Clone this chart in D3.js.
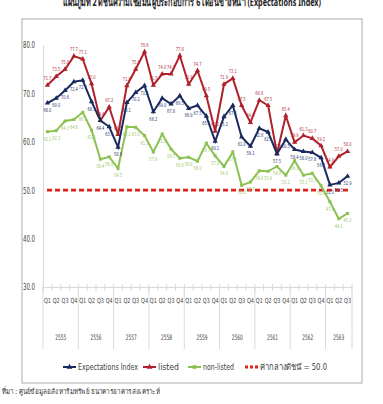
<!DOCTYPE html>
<html>
<head>
<meta charset="utf-8">
<script src="https://cdn.jsdelivr.net/npm/d3@7"></script>
<style>
  body { margin: 0; background: #fff; }
  svg { display: block; }
  text { font-family: "DejaVu Sans Condensed", "Liberation Sans", sans-serif; }
</style>
</head>
<body>
<div id="chart"></div>
<script>
// data
const years = ["2555", "2556", "2557", "2558", "2559", "2560", "2561", "2562", "2563"];
const quarterNames = ["Q1", "Q2", "Q3", "Q4"];
const quartersPerYear = [4, 4, 4, 4, 4, 4, 4, 4, 3];

const expectations = [68.0, 69.0, 70.6, 72.4, 72.7, 68.3, 64.4, 63.1, 58.9, 68.1, 70.2, 71.6, 66.2, 69.0, 67.8, 69.5, 66.9, 67.5, 65.3, 60.1, 65.2, 67.5, 61.0, 59.1, 62.8, 62.0, 57.5, 60.5, 58.4, 58.0, 57.8, 56.7, 51.1, 51.5, 52.9];
const listed = [71.7, 73.5, 75.0, 77.7, 77.1, 72.0, 64.4, 67.2, 61.5, 71.6, 75.0, 78.6, 71.7, 74.0, 74.0, 77.8, 71.9, 74.7, 69.5, 62.2, 71.9, 73.1, 67.5, 64.0, 68.6, 67.5, 57.6, 65.4, 59.9, 61.3, 60.7, 59.2, 54.8, 57.0, 58.0];
const nonListed = [62.1, 62.3, 64.3, 64.6, 66.1, 62.4, 56.4, 56.9, 54.5, 63.1, 63.0, 61.3, 57.9, 61.6, 58.5, 56.6, 56.8, 56.0, 59.7, 57.1, 54.9, 57.9, 51.0, 51.7, 54.0, 53.9, 54.9, 53.1, 56.1, 53.1, 53.5, 50.9, 47.6, 44.1, 45.2];
const midValue = 50.0;
const yTicks = [30, 40, 50, 60, 70, 80];

const W = 383, H = 404;
const svg = d3.select("#chart").append("svg").attr("width", W).attr("height", H);

// quarter categories
const cats = [];
years.forEach((y, i) => {
  for (let q = 0; q < quartersPerYear[i]; q++) cats.push({ year: y, q: quarterNames[q] });
});
const idx = cats.map((d, i) => i);

const x = d3.scaleBand().domain(idx).range([43, 352]).padding(0);
const y = d3.scaleLinear().domain([30, 80]).range([287, 45]);
const cx = i => x(i) + x.bandwidth() / 2;

// title (cut at the top of the picture)
svg.append("text")
  .attr("x", 192).attr("y", 6)
  .attr("text-anchor", "middle")
  .style("font-family", "'Noto Sans', sans-serif")
  .style("font-size", "11px").style("font-weight", "bold")
  .attr("fill", "#222")
  .attr("textLength", 258).attr("lengthAdjust", "spacingAndGlyphs")
  .text("แผนภูมิที่ 2 ดัชนีความเชื่อมั่นผู้ประกอบการ 6 เดือนข้างหน้า (Expectations Index)");

// frame
svg.append("rect")
  .attr("x", 22).attr("y", 19).attr("width", 340).attr("height", 364)
  .attr("fill", "none").attr("stroke", "#c8c8c8").attr("stroke-width", 1.5);

// y axis
const yAxis = svg.append("g").attr("transform", "translate(43,0)")
  .call(d3.axisLeft(y).tickValues(yTicks).tickFormat(d3.format(".1f")).tickSize(0).tickPadding(8));
yAxis.select(".domain").attr("stroke", "#d9d9d9");
yAxis.selectAll("text").attr("fill", "#404040").style("font-size", "9px")
  .attr("textLength", 12).attr("lengthAdjust", "spacingAndGlyphs");

// x axis with quarter labels
const xAxis = svg.append("g").attr("transform", "translate(0,287)")
  .call(d3.axisBottom(x).tickFormat(i => cats[i].q).tickSize(0).tickPadding(11));
xAxis.select(".domain").attr("stroke", "#d9d9d9");
xAxis.selectAll("text").attr("fill", "#404040").style("font-size", "7px")
  .attr("textLength", 7).attr("lengthAdjust", "spacingAndGlyphs");

// small ticks between quarters
svg.append("g").selectAll("line")
  .data(d3.range(cats.length + 1))
  .join("line")
  .attr("x1", i => x.range()[0] + i * x.bandwidth())
  .attr("x2", i => x.range()[0] + i * x.bandwidth())
  .attr("y1", 284).attr("y2", 291)
  .attr("stroke", "#d9d9d9");

// year separators and year labels
let start = 0;
const yearBounds = years.map((yr, i) => {
  const b = { year: yr, s: start, e: start + quartersPerYear[i] };
  start = b.e;
  return b;
});
const bx = k => x.range()[0] + k * x.bandwidth();
svg.append("g").selectAll("line")
  .data([0].concat(yearBounds.map(b => b.e)))
  .join("line")
  .attr("x1", bx).attr("x2", bx)
  .attr("y1", 287).attr("y2", 349)
  .attr("stroke", "#d9d9d9");
svg.append("g").selectAll("text")
  .data(yearBounds)
  .join("text")
  .attr("x", b => (bx(b.s) + bx(b.e)) / 2)
  .attr("y", 340)
  .attr("text-anchor", "middle")
  .attr("fill", "#404040")
  .style("font-size", "7.5px")
  .attr("textLength", 11).attr("lengthAdjust", "spacingAndGlyphs")
  .text(b => b.year);

// midpoint dashed line
svg.append("line")
  .attr("x1", bx(0) + 4).attr("x2", bx(cats.length) - 4)
  .attr("y1", y(midValue)).attr("y2", y(midValue))
  .attr("stroke", "#e0201b").attr("stroke-width", 2.8)
  .attr("stroke-dasharray", "5,3");

const series = [
  { name: "non-listed", values: nonListed, color: "#8cc152", label: "#9bc76a", sym: d3.symbolSquare, size: 9, dy: 9 },
  { name: "listed", values: listed, color: "#b0202a", label: "#b0303a", sym: d3.symbolTriangle, size: 12, dy: -5 },
  { name: "Expectations Index", values: expectations, color: "#1b2a5e", label: "#2a3a70", sym: d3.symbolTriangle, size: 12, dy: 9 }
];

const line = d3.line().x((d, i) => cx(i)).y(d => y(d));

series.forEach(s => {
  const g = svg.append("g");
  g.append("path")
    .attr("d", line(s.values))
    .attr("fill", "none")
    .attr("stroke", s.color)
    .attr("stroke-width", 2);
  g.selectAll("path.m")
    .data(s.values)
    .join("path")
    .attr("class", "m")
    .attr("transform", (d, i) => `translate(${cx(i)},${y(d)})`)
    .attr("d", d3.symbol().type(s.sym).size(s.size))
    .attr("fill", s.color);
  g.selectAll("text")
    .data(s.values)
    .join("text")
    .attr("x", (d, i) => cx(i))
    .attr("y", d => y(d) + s.dy)
    .attr("text-anchor", "middle")
    .attr("fill", s.label)
    .style("font-size", "5.5px")
    .attr("textLength", 8).attr("lengthAdjust", "spacingAndGlyphs")
    .text(d => d.toFixed(1));
});

// legend
const legend = [
  { name: "Expectations Index", color: "#1b2a5e", x: 63, w: 60, sym: d3.symbolTriangle },
  { name: "listed", color: "#b0202a", x: 143, w: 21, sym: d3.symbolTriangle },
  { name: "non-listed", color: "#8cc152", x: 188, w: 31, sym: d3.symbolSquare },
  { name: "ค่ากลางดัชนี = 50.0", color: "#e0201b", x: 245, w: 67, dash: true }
];
const lg = svg.append("g");
legend.forEach(l => {
  lg.append("line")
    .attr("x1", l.x).attr("x2", l.x + 13)
    .attr("y1", 367).attr("y2", 367)
    .attr("stroke", l.color)
    .attr("stroke-width", l.dash ? 2.8 : 2)
    .attr("stroke-dasharray", l.dash ? "3,2" : null);
  if (l.sym) {
    lg.append("path")
      .attr("transform", `translate(${l.x + 6.5},367)`)
      .attr("d", d3.symbol().type(l.sym).size(14))
      .attr("fill", l.color);
  }
  lg.append("text")
    .attr("x", l.x + 15).attr("y", 370)
    .attr("fill", "#404040")
    .style("font-size", "9px")
    .attr("textLength", l.w).attr("lengthAdjust", "spacingAndGlyphs")
    .text(l.name);
});

// source note
svg.append("text")
  .attr("x", 2).attr("y", 394)
  .attr("fill", "#333")
  .style("font-family", "'Noto Sans', sans-serif")
  .style("font-size", "7.5px")
  .attr("textLength", 158).attr("lengthAdjust", "spacingAndGlyphs")
  .text("ที่มา : ศูนย์ข้อมูลอสังหาริมทรัพย์ ธนาคารอาคารสงเคราะห์");
</script>
</body>
</html>
